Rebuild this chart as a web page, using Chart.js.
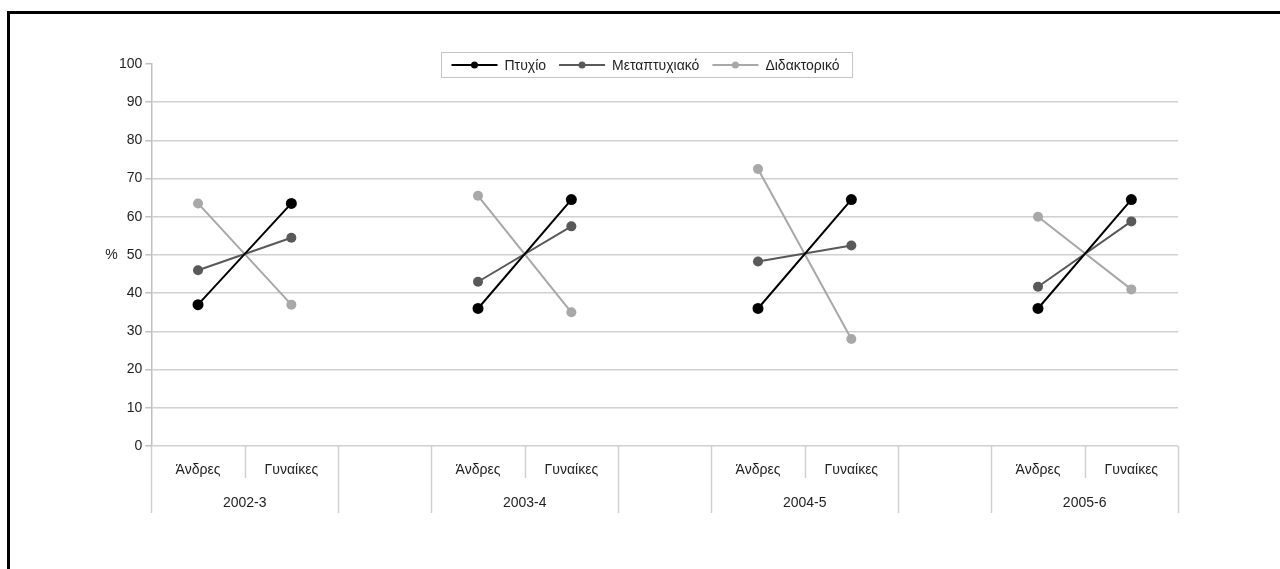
<!DOCTYPE html>
<html>
<head>
<meta charset="utf-8">
<script src="https://cdn.jsdelivr.net/npm/chart.js@4.4.0/dist/chart.umd.min.js"></script>
<style>
html, body { margin: 0; padding: 0; background: #fff; }
#wrap { position: relative; width: 1280px; height: 569px; overflow: hidden; }
#frame { position: absolute; left: 7px; top: 11px; width: 1400px; height: 700px;
         border-left: 3px solid #000; border-top: 3px solid #000; }
#chart { position: absolute; left: 0; top: 0; }
</style>
</head>
<body>
<div id="wrap">
  <div id="frame"></div>
  <canvas id="chart" width="1280" height="569"></canvas>
</div>
<script>
// --- data ---
const years = ["2002-3", "2003-4", "2004-5", "2005-6"];
const genders = ["Άνδρες", "Γυναίκες"];
const yTicks = [0, 10, 20, 30, 40, 50, 60, 70, 80, 90, 100];

// men / women share per year, null = gap slot between years
const ptyxio       = [37, 63.5, null, 36, 64.5, null, 36, 64.5, null, 36, 64.5];
const metaptyxiako = [46, 54.5, null, 43, 57.5, null, 48.3, 52.5, null, 41.7, 58.8];
const didaktoriko  = [63.5, 37, null, 65.5, 35, null, 72.5, 28, null, 60, 41];

const seriesNames = ["Πτυχίο", "Μεταπτυχιακό", "Διδακτορικό"];
const seriesColors = ["#000000", "#595959", "#a8a8a8"];

// category slots: Άνδρες, Γυναίκες, (blank) ... for each year
const categories = [];
const slotKind = [];   // 0 = men, 1 = women, 2 = blank
years.forEach((yr, i) => {
    genders.forEach((g, j) => { categories.push(g); slotKind.push(j); });
    if (i < years.length - 1) { categories.push(""); slotKind.push(2); }
});

const FONT = "'Liberation Sans', Arial, sans-serif";
const FSIZE = 14;
const TEXT = "#1e1e1e";
const GRID = "#d0d0d0";

Chart.defaults.font.family = FONT;
Chart.defaults.font.size = FSIZE;
Chart.defaults.color = TEXT;

// --- grouped x axis drawn under the plot ---
const groupAxis = {
    id: "groupAxis",
    afterDraw(chart) {
        const { ctx, chartArea, scales } = chart;
        const x = scales.x;
        const bottom = chartArea.bottom;
        const step = x.getPixelForValue(1) - x.getPixelForValue(0);
        const first = x.getPixelForValue(0) - step / 2;

        ctx.save();
        ctx.strokeStyle = GRID;
        ctx.lineWidth = 1.5;
        for (let i = 0; i <= categories.length; i++) {
            const bx = Math.round(first + i * step) + 0.5;
            const short = slotKind[i - 1] === 0 && slotKind[i] === 1;
            ctx.beginPath();
            ctx.moveTo(bx, bottom);
            ctx.lineTo(bx, bottom + (short ? 32 : 67));
            ctx.stroke();
        }

        ctx.fillStyle = TEXT;
        ctx.font = FSIZE + "px " + FONT;
        ctx.textAlign = "center";
        ctx.textBaseline = "middle";
        categories.forEach((c, i) => {
            if (c) ctx.fillText(c, x.getPixelForValue(i), bottom + 24);
        });
        let k = 0;
        years.forEach(yr => {
            while (slotKind[k] !== 0) k++;
            const cx = (x.getPixelForValue(k) + x.getPixelForValue(k + 1)) / 2;
            ctx.fillText(yr, cx, bottom + 57);
            k += 2;
        });

        // axis title
        ctx.fillText("%", chartArea.left - 40, scales.y.getPixelForValue(50));
        ctx.restore();
    }
};

// --- legend box with line + dot samples ---
const lineLegend = {
    id: "lineLegend",
    afterDraw(chart) {
        const { ctx } = chart;
        ctx.save();
        ctx.font = FSIZE + "px " + FONT;
        const sample = 46, gap = 7, pad = 13, left = 10;
        let total = left;
        seriesNames.forEach(n => { total += sample + gap + ctx.measureText(n).width + pad; });
        const bx = Math.round(647 - total / 2) + 0.5;
        const by = 52.5, bh = 25;
        ctx.fillStyle = "#fff";
        ctx.fillRect(bx, by, total, bh);
        ctx.strokeStyle = "#c4c4c4";
        ctx.lineWidth = 1;
        ctx.strokeRect(bx, by, total, bh);

        let cx = bx + left;
        const cy = by + bh / 2;
        chart.data.datasets.forEach((ds, i) => {
            ctx.strokeStyle = ds.borderColor;
            ctx.lineWidth = 2;
            ctx.beginPath();
            ctx.moveTo(cx, cy);
            ctx.lineTo(cx + sample, cy);
            ctx.stroke();
            ctx.fillStyle = ds.borderColor;
            ctx.beginPath();
            ctx.arc(cx + sample / 2, cy, 3.5, 0, Math.PI * 2);
            ctx.fill();
            cx += sample + gap;
            ctx.fillStyle = TEXT;
            ctx.textAlign = "left";
            ctx.textBaseline = "middle";
            ctx.fillText(ds.label, cx, cy + 1);
            cx += ctx.measureText(ds.label).width + pad;
        });
        ctx.restore();
    }
};

const seriesData = [ptyxio, metaptyxiako, didaktoriko];

new Chart(document.getElementById("chart"), {
    type: "line",
    data: {
        labels: categories,
        datasets: seriesData.map((vals, i) => ({
            label: seriesNames[i],
            data: vals,
            borderColor: seriesColors[i],
            backgroundColor: seriesColors[i],
            pointBackgroundColor: seriesColors[i],
            pointBorderColor: seriesColors[i],
            borderWidth: 2,
            pointRadius: i === 0 ? 5.5 : 5,
            pointBorderWidth: 0,
            spanGaps: false,
            tension: 0
        }))
    },
    options: {
        responsive: false,
        animation: false,
        layout: { padding: { left: 116, right: 102, top: 64, bottom: 123 } },
        plugins: {
            legend: { display: false },
            tooltip: { enabled: false }
        },
        scales: {
            x: {
                display: false,
                offset: true
            },
            y: {
                min: 0,
                max: 100,
                afterBuildTicks: axis => { axis.ticks = yTicks.map(v => ({ value: v })); },
                ticks: { padding: 3, color: TEXT, font: { size: FSIZE } },
                grid: {
                    color: c => c.tick && c.tick.value === 100 ? "rgba(0,0,0,0)" : GRID,
                    tickColor: "#c0c0c0",
                    tickLength: 6,
                    lineWidth: 1.5
                },
                border: { color: "#c0c0c0", width: 1.5 }
            }
        }
    },
    plugins: [groupAxis, lineLegend]
});
</script>
</body>
</html>
